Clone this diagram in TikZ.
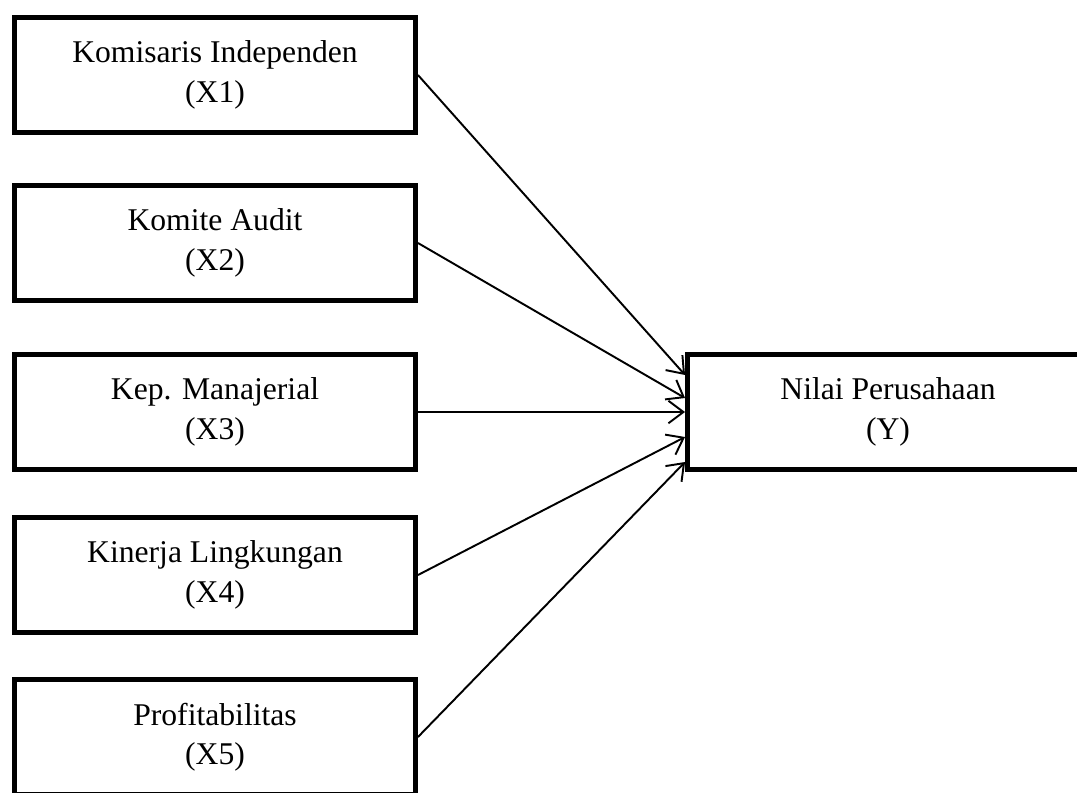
\documentclass[tikz,border=0pt]{standalone}
\usepackage{fontspec}
\setmainfont{Liberation Serif}
\usetikzlibrary{arrows.meta}

\begin{document}
\begin{tikzpicture}[
  varbox/.style={draw, line width=2.8pt, minimum width=8.02cm, minimum height=2.3cm,
    align=center, inner sep=0pt, font=\fontsize{18}{22.5}\selectfont,
    execute at begin node={\rule{0pt}{0.68cm}}},
  link/.style={line width=1.1pt, -{Straight Barb[length=0.3cm, width=0.45cm]}}
]
  \clip (0,0) rectangle (21.54,-15.84);

  % Independent variables
  \node[varbox] (x1) at (4.3,-1.5) {Komisaris Independen\\(X1)};
  \node[varbox] (x2) at (4.3,-4.86) {Komite Audit\\(X2)};
  \node[varbox] (x3) at (4.3,-8.24) {Kep. Manajerial\\(X3)};
  \node[varbox] (x4) at (4.3,-11.5) {Kinerja Lingkungan\\(X4)};
  \node[varbox] (x5) at (4.3,-14.74) {Profitabilitas\\(X5)};

  % Dependent variable
  \node[varbox] (y) at (17.76,-8.24) {Nilai Perusahaan\\(Y)};

  % Paths
  \draw[link] (x1.east) -- ([yshift=0.74cm]y.west);
  \draw[link] (x2.east) -- ([yshift=0.28cm]y.west);
  \draw[link] (x3.east) -- (y.west);
  \draw[link] (x4.east) -- ([yshift=-0.5cm]y.west);
  \draw[link] (x5.east) -- ([yshift=-1.0cm]y.west);
\end{tikzpicture}
\end{document}
